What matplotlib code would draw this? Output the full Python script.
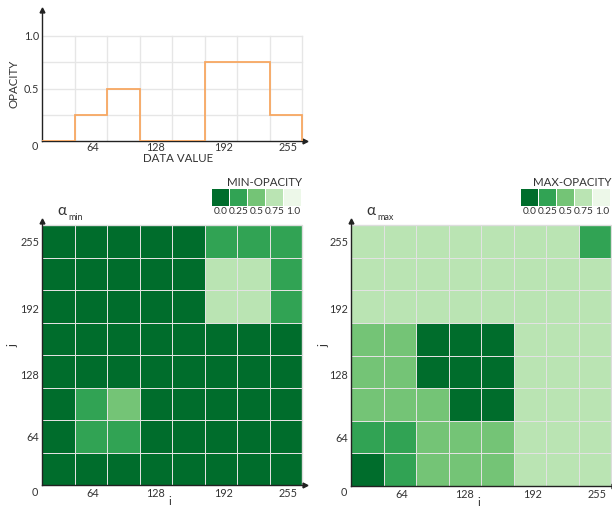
import matplotlib
matplotlib.use("Agg")
import matplotlib.pyplot as plt
import numpy as np
from matplotlib.colors import ListedColormap, BoundaryNorm

plt.rcParams['font.family'] = ['Lato', 'DejaVu Sans']

# ---- data ----
bin_edges = [0, 32, 64, 96, 128, 160, 192, 224, 256]
opacity = [0, 0.25, 0.5, 0, 0, 0.75, 0.75, 0.25]

tick_labels = ['64', '128', '192', '255']
legend_values = ['0.0', '0.25', '0.5', '0.75', '1.0']
greens = ['#006d2c', '#31a354', '#74c476', '#bae4b3', '#edf8e9']

# rows listed from top (j=255) to bottom (j=0), columns i=0..255
min_opacity = [
    [0, 0, 0, 0, 0, 0.25, 0.25, 0.25],
    [0, 0, 0, 0, 0, 0.75, 0.75, 0.25],
    [0, 0, 0, 0, 0, 0.75, 0.75, 0.25],
    [0, 0, 0, 0, 0, 0, 0, 0],
    [0, 0, 0, 0, 0, 0, 0, 0],
    [0, 0.25, 0.5, 0, 0, 0, 0, 0],
    [0, 0.25, 0.25, 0, 0, 0, 0, 0],
    [0, 0, 0, 0, 0, 0, 0, 0],
]
max_opacity = [
    [0.75, 0.75, 0.75, 0.75, 0.75, 0.75, 0.75, 0.25],
    [0.75, 0.75, 0.75, 0.75, 0.75, 0.75, 0.75, 0.75],
    [0.75, 0.75, 0.75, 0.75, 0.75, 0.75, 0.75, 0.75],
    [0.5, 0.5, 0, 0, 0, 0.75, 0.75, 0.75],
    [0.5, 0.5, 0, 0, 0, 0.75, 0.75, 0.75],
    [0.5, 0.5, 0.5, 0, 0, 0.75, 0.75, 0.75],
    [0.25, 0.25, 0.5, 0.5, 0.5, 0.75, 0.75, 0.75],
    [0, 0.25, 0.5, 0.5, 0.5, 0.75, 0.75, 0.75],
]

# ---- layout helpers ----
W, H = 612, 508
fig = plt.figure(figsize=(W / 100, H / 100), dpi=100)


def px_axes(x0, y0, x1, y1):
    return fig.add_axes([x0 / W, (H - y1) / H, (x1 - x0) / W, (y1 - y0) / H])


TXT = '#333333'
FS = 7.8
xtick_pos = [50, 112, 179, 242]
ytick_pos = [48, 109, 174, 240]

# ---- top: transfer function ----
ax = px_axes(42, 10, 305, 141)
top_x = 256 * 263 / 260
top_y = 1.0 * 131 / 105
ax.set_xlim(0, top_x)
ax.set_ylim(0, top_y)
for x in bin_edges[1:]:
    ax.plot([x, x], [0, 1.0], color='#e6e6e6', lw=1, zorder=0)
for y in [0.25, 0.5, 0.75, 1.0]:
    ax.plot([0, 256], [y, y], color='#e6e6e6', lw=1, zorder=0)
ax.stairs(opacity, bin_edges, color='#f7a762', lw=1.3, baseline=0, zorder=3)
for s in ['top', 'right']:
    ax.spines[s].set_visible(False)
for s in ['left', 'bottom']:
    ax.spines[s].set_color('#222222')
    ax.spines[s].set_linewidth(1.0)
ax.plot(1, 0, '>', color='#222222', ms=3.5, transform=ax.transAxes, clip_on=False)
ax.plot(0, 1, '^', color='#222222', ms=3.5, transform=ax.transAxes, clip_on=False)
ax.set_xticks(xtick_pos)
ax.set_xticklabels(tick_labels)
ax.set_yticks([0.5, 1.0])
ax.set_yticklabels(['0.5', '1.0'])
ax.tick_params(length=0, labelsize=FS, colors=TXT, pad=2)
ax.tick_params(axis='x', pad=1)
ax.set_xlabel('DATA VALUE', fontsize=FS + 0.5, color=TXT)
ax.xaxis.set_label_coords(0.517, -0.095)
ax.set_ylabel('OPACITY', fontsize=FS + 0.5, color=TXT)
ax.yaxis.set_label_coords(-0.087, 0.44)
fig.text(35 / W, 1 - 147 / H, '0', fontsize=FS, color=TXT, ha='center', va='center')

# ---- heatmaps ----
cmap = ListedColormap(greens)
norm = BoundaryNorm([-0.125, 0.125, 0.375, 0.625, 0.875, 1.125], cmap.N)


def heatmap(x0, x1, y0, y1, data, sub, title, lg_x0, jx, ix):
    a = px_axes(x0, y0 - 4, x1 + 3, y1)
    sx = 256 * (x1 + 3 - x0) / (x1 - x0)
    sy = 256 * (y1 - y0 + 4) / (y1 - y0)
    a.set_xlim(0, sx)
    a.set_ylim(0, sy)
    z = np.array(data)[::-1]
    a.pcolormesh(bin_edges, bin_edges, z, cmap=cmap, norm=norm,
                 edgecolors='#e2e2e2', linewidth=0.6)
    a.plot([0, 256, 256], [256, 256, 0], color='#dddddd', lw=1)
    for s in ['top', 'right']:
        a.spines[s].set_visible(False)
    for s in ['left', 'bottom']:
        a.spines[s].set_color('#222222')
        a.spines[s].set_linewidth(1.0)
        a.spines[s].set_zorder(5)
    a.plot(1, 0, '>', color='#222222', ms=3.5, transform=a.transAxes, clip_on=False)
    a.plot(0, 1, '^', color='#222222', ms=3.5, transform=a.transAxes, clip_on=False)
    a.set_xticks(xtick_pos)
    a.set_xticklabels(tick_labels)
    a.set_yticks(ytick_pos)
    a.set_yticklabels(tick_labels)
    a.tick_params(length=0, labelsize=FS, colors=TXT, pad=2)
    a.set_xlabel('i', fontsize=FS + 0.5, color=TXT)
    a.xaxis.set_label_coords(ix, -0.042)
    a.set_ylabel('j', fontsize=FS + 1, color=TXT)
    a.yaxis.set_label_coords(jx, 0.53)
    fig.text((x0 - 7) / W, 1 - 492 / H, '0', fontsize=FS, color=TXT, ha='center', va='center')
    # alpha label
    fig.text((x0 + 20) / W, 1 - 211 / H, 'α', fontsize=11, color=TXT, ha='center', va='center')
    fig.text((x0 + 26) / W, 1 - 217 / H, sub, fontsize=6.5, color=TXT, ha='left', va='center')
    # legend
    fig.text(x1 / W, 1 - 182 / H, title, fontsize=FS + 0.5, color=TXT, ha='right', va='center')
    sw = 90 / 5
    for k, (c, lab) in enumerate(zip(greens, legend_values)):
        la = fig.add_axes([(lg_x0 + k * sw) / W, (H - 206) / H, (sw - 1.5) / W, 17 / H])
        la.set_facecolor(c)
        la.set_xticks([])
        la.set_yticks([])
        for s in la.spines.values():
            s.set_visible(False)
        fig.text((lg_x0 + k * sw + sw / 2) / W, 1 - 212 / H, lab, fontsize=7.3,
                 color=TXT, ha='center', va='center')


heatmap(42, 302, 225, 485, min_opacity, 'min', 'MIN-OPACITY', 212, -0.091, 0.487)
heatmap(351, 611, 225, 486, max_opacity, 'max', 'MAX-OPACITY', 521, -0.08, 0.487)

fig.savefig('out.png', dpi=100)
